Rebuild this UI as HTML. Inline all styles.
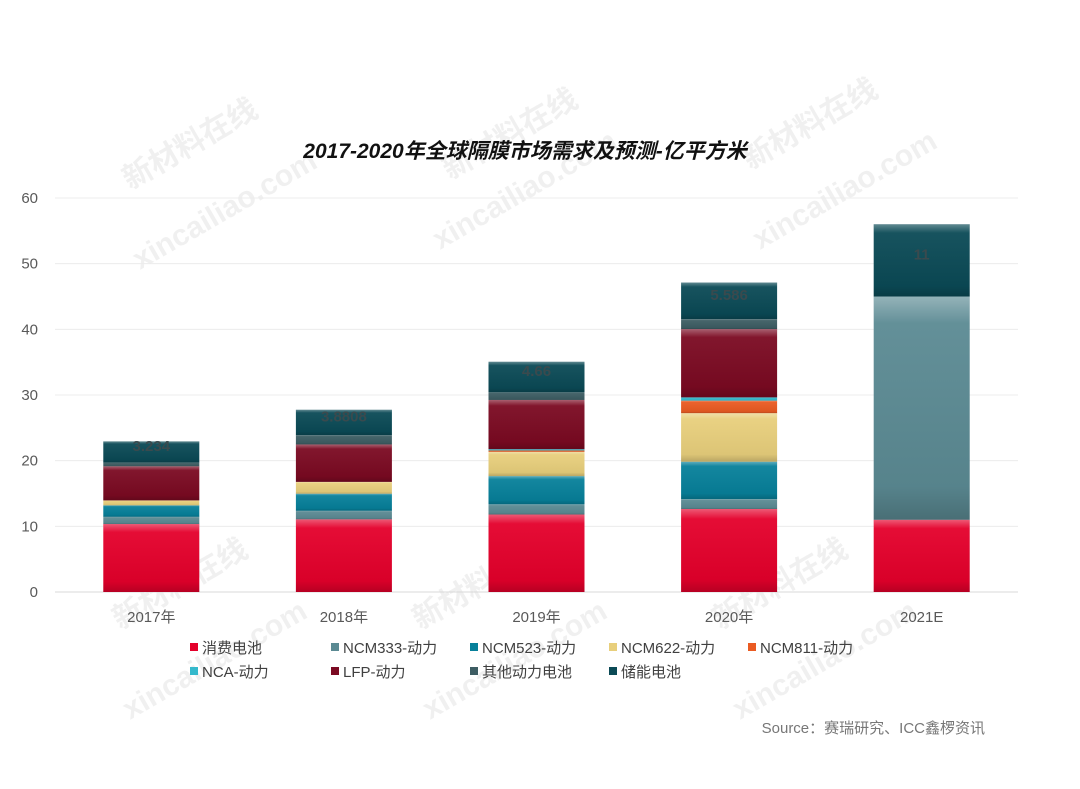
<!DOCTYPE html>
<html><head><meta charset="utf-8"><style>
body{margin:0;background:#fff;}
svg{display:block;font-family:"Liberation Sans","Noto Sans CJK SC",sans-serif;}
</style></head><body>
<svg id="chart" width="1080" height="789" viewBox="0 0 1080 789">
<defs>
<linearGradient id="shine" x1="0" y1="0" x2="0" y2="1">
<stop offset="0" stop-color="#fff" stop-opacity="0.35"/>
<stop offset="0.12" stop-color="#fff" stop-opacity="0.05"/>
<stop offset="0.85" stop-color="#000" stop-opacity="0.05"/>
<stop offset="1" stop-color="#000" stop-opacity="0.2"/>
</linearGradient>
</defs>
<g id="wm" fill="#000" fill-opacity="0.06" font-weight="bold" font-size="30"></g>
<text x="525" y="158" text-anchor="middle" font-size="21" font-weight="bold" font-style="italic" fill="#111">2017-2020年全球隔膜市场需求及预测-亿平方米</text>
<g id="grid"></g>
<g id="bars"></g>
<g id="legend"></g>
<text x="985" y="733" text-anchor="end" font-size="15" fill="#777">Source：赛瑞研究、ICC鑫椤资讯</text>
</svg>
<script>
const categories=["2017年","2018年","2019年","2020年","2021E"];
const seriesNames=["消费电池","NCM333-动力","NCM523-动力","NCM622-动力","NCM811-动力","NCA-动力","LFP-动力","其他动力电池","储能电池"];
const consumer=[10.35,11.07,11.8,12.64,11];
const ncm333=[1.1,1.3,1.55,1.5,34];
const ncm523=[1.75,2.6,4.3,5.7,0];
const ncm622=[0.75,1.8,3.7,7.4,0];
const ncm811=[0,0,0.2,1.9,0];
const nca=[0,0,0.2,0.5,0];
const lfp=[5.2,5.7,7.5,10.4,0];
const other=[0.55,1.4,1.15,1.5,0];
const storage=[3.234,3.8808,4.66,5.586,11];
const storageLabels=["3.234","3.8808","4.66","5.586","11"];
const yTicks=[0,10,20,30,40,50,60];
const colors=["#e4002b","#5b8a93","#07809a","#e8cf7c","#ea5b22","#35b9cc","#7b0a22","#3d5d63","#0b4a56"];
const series=[consumer,ncm333,ncm523,ncm622,ncm811,nca,lfp,other,storage];
const NS="http://www.w3.org/2000/svg";
const plotL=55,plotR=1018,y0=592,y60=198;
const y=v=>y0-(v/60)*(y0-y60);
const band=(plotR-plotL)/categories.length;
const xc=i=>plotL+band*(i+0.5);
const barW=96;
function mk(tag,attrs,parent){const e=document.createElementNS(NS,tag);for(const k in attrs)e.setAttribute(k,attrs[k]);parent.appendChild(e);return e;}
const grid=document.getElementById('grid');
yTicks.forEach(t=>{
  const l=mk('line',{x1:plotL,x2:plotR,y1:y(t),y2:y(t),stroke:t===0?'#d9d9d9':'#ececec','stroke-width':1},grid);
  
  
  const tx=mk('text',{x:38,y:y(t)+5,'text-anchor':'end','font-size':15,fill:'#595959'},grid);
  tx.textContent=t;
  
  
});
const bars=document.getElementById('bars');
categories.forEach((c,i)=>{
  let acc=0;
  series.forEach((s,k)=>{
    const v=s[i];if(!v)return;
    const top=y(acc+v),bot=y(acc);
    const g=mk('g',{},bars);
    
    
    mk('rect',{x:xc(i)-barW/2,y:top,width:barW,height:bot-top,fill:colors[k]},g);
    mk('rect',{x:xc(i)-barW/2,y:top,width:barW,height:bot-top,fill:'url(#shine)'},g);
    acc+=v;
    if(k===8){
      const t=mk('text',{x:xc(i),y:(top+bot)/2-1,'text-anchor':'middle','font-size':15,'font-weight':'bold',fill:'#3a4a4e'},bars);
      t.textContent=storageLabels[i];
      
      
    }
  });
  const lb=mk('text',{x:xc(i),y:622,'text-anchor':'middle','font-size':15,fill:'#595959'},bars);
  lb.textContent=c;
  
  
});
const leg=document.getElementById('legend');
const lx=[190,331,470,609,748];
seriesNames.forEach((n,k)=>{
  const r=Math.floor(k/5),c=k%5;
  const g=mk('g',{},leg);
  
  
  mk('rect',{x:lx[c],y:643+r*24,width:8,height:8,fill:colors[k]},g);
  const t=mk('text',{x:lx[c]+12,y:653+r*24,'font-size':15,fill:'#404040'},g);
  t.textContent=n;
});
const wm=document.getElementById('wm');
[[130,190,"新材料在线"],[450,180,"新材料在线"],[750,170,"新材料在线"],[140,270,"xincailiao.com"],[440,250,"xincailiao.com"],[760,250,"xincailiao.com"],[120,630,"新材料在线"],[420,630,"新材料在线"],[720,630,"新材料在线"],[130,720,"xincailiao.com"],[430,720,"xincailiao.com"],[740,720,"xincailiao.com"]].forEach(([x,yy,s])=>{
  const t=mk('text',{x:x,y:yy,transform:`rotate(-30 ${x} ${yy})`},wm);
  t.textContent=s;
});
</script>
</body></html>
